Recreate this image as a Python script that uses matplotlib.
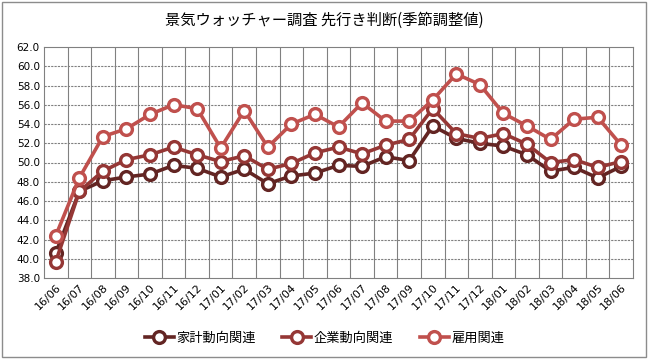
import numpy as np
import matplotlib
matplotlib.use("Agg")
import matplotlib.pyplot as plt
from matplotlib.patches import Rectangle

plt.rcParams['font.family'] = ['Noto Sans CJK JP', 'DejaVu Sans']

months = ["16/06", "16/07", "16/08", "16/09", "16/10", "16/11", "16/12",
          "17/01", "17/02", "17/03", "17/04", "17/05", "17/06", "17/07",
          "17/08", "17/09", "17/10", "17/11", "17/12", "18/01", "18/02",
          "18/03", "18/04", "18/05", "18/06"]

kakei = [40.6, 47.0, 48.1, 48.5, 48.8, 49.7, 49.4, 48.5, 49.3, 47.8, 48.6, 48.9,
         49.7, 49.6, 50.6, 50.2, 53.8, 52.5, 52.0, 51.7, 50.8, 49.1, 49.5, 48.4, 49.6]
kigyo = [39.7, 47.0, 49.1, 50.3, 50.8, 51.6, 50.8, 50.1, 50.7, 49.3, 49.9, 51.0,
         51.6, 50.9, 51.8, 52.4, 55.6, 53.0, 52.5, 53.0, 51.9, 50.0, 50.3, 49.5, 50.1]
koyo = [42.4, 48.4, 52.7, 53.5, 55.0, 56.0, 55.6, 51.5, 55.4, 51.6, 54.0, 55.0,
        53.7, 56.2, 54.3, 54.3, 56.5, 59.2, 58.1, 55.1, 53.8, 52.4, 54.5, 54.7, 51.8]

series = [("家計動向関連", kakei, "#632523"),
          ("企業動向関連", kigyo, "#953735"),
          ("雇用関連", koyo, "#c0504d")]

fig = plt.figure(figsize=(6.49, 3.61), dpi=100)
fig.patches.append(Rectangle((0.003, 0.012), 0.992, 0.982, transform=fig.transFigure,
                             fill=False, edgecolor="#8c8c8c", linewidth=1.0))

ax = fig.add_axes([44 / 649, 83 / 361, 589 / 649, 231 / 361])
x = np.arange(len(months))

# horizontal dashed grid
for v in np.arange(40, 62, 2):
    ax.axhline(v, color="#808080", linestyle=(0, (2, 1)), linewidth=0.8, zorder=0)
# vertical solid grid between categories
for b in np.arange(0.5, len(months) - 1, 1):
    ax.axvline(b, color="#808080", linewidth=0.8, zorder=0)

for name, vals, col in series:
    ax.plot(x, vals, color=col, linewidth=2.6, marker="o", markersize=8.5,
            markerfacecolor="white", markeredgecolor=col, markeredgewidth=2.4,
            label=name, zorder=3)

ax.set_xlim(-0.5, len(months) - 0.5)
ax.set_ylim(38, 62)
ax.set_yticks(np.arange(38, 62.1, 2))
ax.set_yticklabels([f"{v:.1f}" for v in np.arange(38, 62.1, 2)], fontsize=7.5,
                   family=['DejaVu Sans'])
ax.set_xticks(x)
ax.set_xticklabels(months, rotation=45, ha="right", rotation_mode="anchor",
                   fontsize=8, family=['DejaVu Sans'])
ax.tick_params(axis="both", length=0, pad=3)
for s in ax.spines.values():
    s.set_color("#808080")
    s.set_linewidth(0.8)

fig.text(0.5, 0.945, "景気ウォッチャー調査 先行き判断(季節調整値)", ha="center",
         va="center", fontsize=11)

ax.legend(loc="center", bbox_to_anchor=(0.5, 0.063), bbox_transform=fig.transFigure,
          ncol=3, frameon=False, fontsize=9.5, handlelength=2.2, columnspacing=2.0,
          handletextpad=0.2)

fig.savefig("out.png", dpi=100)
